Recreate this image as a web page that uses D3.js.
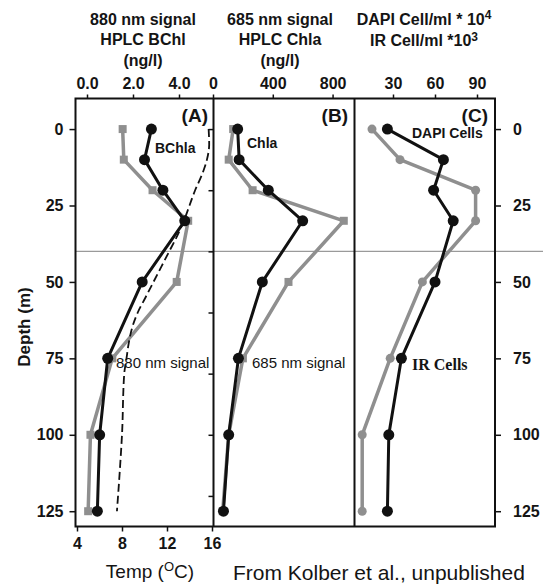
<!DOCTYPE html>
<html><head><meta charset="utf-8">
<script src="https://cdn.jsdelivr.net/npm/d3@7"></script>
<style>
html,body{margin:0;padding:0;background:#fff;}
svg text{font-family:"Liberation Sans",Arial,sans-serif;fill:#141414;}
</style></head>
<body><svg id="chart" width="543" height="584"></svg>
<script>
// ---- data ----
const depths = [0, 10, 20, 30, 50, 75, 100, 125];
const bchlHPLC  = [2.8, 2.5, 3.3, 4.25, 2.4, 0.9, 0.55, 0.45];      // ng/l
const signal880 = [1.55, 1.6, 2.85, 4.4, 3.9, 1.1, 0.15, 0.05];
const chlaHPLC  = [165, 175, 370, 600, 330, 170, 105, 70];          // ng/l
const signal685 = [135, 105, 265, 875, 505, 200, 105, 65];
const dapiCells = [26, 66, 59, 73, 60, 36, 27, 26];                 // cell/ml *1e4
const irCells   = [15, 35, 89, 89, 51, 28, 8, 8];                   // cell/ml *1e3
const tempDepths = [0, 5, 10, 15, 20, 25, 30, 35, 40, 45, 50, 55, 60, 65, 70, 75, 80, 100, 112, 125];
const temp       = [15.7, 15.75, 15.55, 15.1, 14.5, 14.0, 13.5, 12.9, 12.2, 11.5, 10.8, 10.1, 9.4, 8.9, 8.6, 8.4, 8.2, 8.0, 7.8, 7.55];
const depthTicks = [0, 25, 50, 75, 100, 125];
const depthTicksB = [0, 20, 40, 60, 80, 100, 120];
const bchlTicks = [0, 2, 4];
const chlaTicks = [0, 400, 800];
const cellTicks = [30, 60, 90];
const tempTicks = [4, 8, 12, 16];
const thermoDepth = 40;

const svg = d3.select("#chart");
const black = "#111", gray = "#8f8f8f";

const y = d3.scaleLinear().domain([-10, 130]).range([98.5, 526.5]);
const xA = d3.scaleLinear().domain([-0.5, 5.5]).range([75.5, 213.5]);
const xT = d3.scaleLinear().domain([4, 16]).range([77, 212]);
const xB = d3.scaleLinear().domain([0, 950]).range([213, 355]);
const xC = d3.scaleLinear().domain([0, 100]).range([351, 491]);

const L = 75.5, R = 495, T = y(-10), B = y(130);

// thermocline line
svg.append("line").attr("x1", L).attr("x2", 543).attr("y1", y(thermoDepth)).attr("y2", y(thermoDepth))
  .attr("stroke", "#9a9a9a").attr("stroke-width", 1.2);

// frame
svg.append("rect").attr("x", L).attr("y", T).attr("width", R - L).attr("height", B - T)
  .attr("fill", "none").attr("stroke", black).attr("stroke-width", 2);
[213.5, 354.5].forEach(xx => svg.append("line").attr("x1", xx).attr("x2", xx).attr("y1", T).attr("y2", B)
  .attr("stroke", black).attr("stroke-width", 2));

// axes
function styleAxis(g, size) {
  g.select(".domain").remove();
  g.selectAll(".tick line").attr("stroke", black).attr("stroke-width", 1.5);
  g.selectAll(".tick text").style("font-size", size + "px").style("font-weight", "bold").attr("fill", "#141414");
}
const left = svg.append("g").attr("transform", `translate(${L},0)`)
  .call(d3.axisLeft(y).tickValues(depthTicks).tickSize(6).tickPadding(6).tickFormat(d3.format("d")));
styleAxis(left, 16);
const right = svg.append("g").attr("transform", `translate(${R},0)`)
  .call(d3.axisRight(y).tickValues(depthTicks).tickSize(6).tickPadding(12).tickFormat(d3.format("d")));
styleAxis(right, 16);
const leftB = svg.append("g").attr("transform", `translate(213.5,0)`)
  .call(d3.axisLeft(y).tickValues(depthTicksB).tickSize(5).tickFormat(""));
styleAxis(leftB, 16);

const topA = svg.append("g").attr("transform", `translate(0,${T})`)
  .call(d3.axisTop(xA).tickValues(bchlTicks).tickSize(4).tickPadding(6).tickFormat(d3.format(".1f")));
styleAxis(topA, 16);
const topB = svg.append("g").attr("transform", `translate(0,${T})`)
  .call(d3.axisTop(xB).tickValues(chlaTicks).tickSize(4).tickPadding(6).tickFormat(d3.format("d")));
styleAxis(topB, 16);
const topC = svg.append("g").attr("transform", `translate(0,${T})`)
  .call(d3.axisTop(xC).tickValues(cellTicks).tickSize(4).tickPadding(6).tickFormat(d3.format("d")));
styleAxis(topC, 16);
const bot = svg.append("g").attr("transform", `translate(0,${B})`)
  .call(d3.axisBottom(xT).tickValues(tempTicks).tickSize(5).tickPadding(6).tickFormat(d3.format("d")));
styleAxis(bot, 16);

// series drawing
function series(xs, vals, color, width, marker) {
  const pts = depths.map((d, i) => [xs(vals[i]), y(d)]);
  svg.append("path").attr("d", d3.line()(pts)).attr("fill", "none")
    .attr("stroke", color).attr("stroke-width", width).attr("stroke-linejoin", "round");
  const g = svg.append("g");
  pts.forEach(p => {
    if (marker === "square") {
      g.append("rect").attr("x", p[0] - 4).attr("y", p[1] - 4).attr("width", 8).attr("height", 8).attr("fill", color);
    } else {
      g.append("circle").attr("cx", p[0]).attr("cy", p[1]).attr("r", marker === "small" ? 4.5 : 5.5).attr("fill", color);
    }
  });
}
series(xA, signal880, gray, 3.5, "square");
series(xB, signal685, gray, 3.5, "square");
series(xC, irCells, gray, 3.5, "small");

// temperature dashed
svg.append("path")
  .attr("d", d3.line().curve(d3.curveMonotoneY)(tempDepths.map((d, i) => [xT(temp[i]), y(d)])))
  .attr("fill", "none").attr("stroke", black).attr("stroke-width", 1.8).attr("stroke-dasharray", "8,4");

series(xA, bchlHPLC, black, 3, "circle");
series(xB, chlaHPLC, black, 3, "circle");
series(xC, dapiCells, black, 3, "circle");

// panel letters
[["(A)", 208], ["(B)", 348], ["(C)", 488]].forEach(([t, xx]) =>
  svg.append("text").attr("x", xx).attr("y", y(-10) + 23).attr("text-anchor", "end")
    .style("font-size", "19px").style("font-weight", "bold").text(t));

// in-plot labels
function lab(t, xx, yy, size, weight, fam) {
  const e = svg.append("text").attr("x", xx).attr("y", yy).style("font-size", size + "px").style("font-weight", weight).text(t);
  if (fam) e.style("font-family", fam);
}
lab("BChla", 155, 153, 14, "bold");
lab("Chla", 247, 148, 14, "bold");
lab("DAPI Cells", 412, 138, 14, "bold");
lab("880 nm signal", 116, 368, 15, "normal");
lab("685 nm signal", 252, 368, 15, "normal");
lab("IR Cells", 412, 370, 16, "bold", "'Liberation Serif',Times,serif");

// headers
function header(lines, cx) {
  lines.forEach(([txt, yy]) => {
    svg.append("text").attr("x", cx).attr("y", yy).attr("text-anchor", "middle")
      .style("font-size", "16px").style("font-weight", "bold").text(txt);
  });
}
header([["880 nm signal", 25], ["HPLC BChl", 45], ["(ng/l)", 66]], 143);
header([["685 nm signal", 25], ["HPLC Chla", 45], ["(ng/l)", 66]], 280);
svg.append("text").attr("x", 424).attr("y", 25).attr("text-anchor", "middle")
  .style("font-size", "16px").style("font-weight", "bold")
  .call(t => { t.append("tspan").text("DAPI Cell/ml * 10"); t.append("tspan").attr("dy", -6).style("font-size", "12px").text("4"); });
svg.append("text").attr("x", 424).attr("y", 46).attr("text-anchor", "middle")
  .style("font-size", "16px").style("font-weight", "bold")
  .call(t => { t.append("tspan").text("IR Cell/ml *10"); t.append("tspan").attr("dy", -5).style("font-size", "12px").text("3"); });

// axis titles
svg.append("text").attr("transform", "translate(30,327) rotate(-90)").attr("text-anchor", "middle")
  .style("font-size", "17px").style("font-weight", "bold").text("Depth (m)");
svg.append("text").attr("x", 150).attr("y", 578).attr("text-anchor", "middle").style("font-size", "19px")
  .call(t => {
    t.append("tspan").text("Temp (");
    t.append("tspan").attr("dy", -7).style("font-size", "13px").text("O");
    t.append("tspan").attr("dy", 7).text("C)");
  });
svg.append("text").attr("x", 233).attr("y", 580).style("font-size", "21px").text("From Kolber et al., unpublished");
</script></body></html>
